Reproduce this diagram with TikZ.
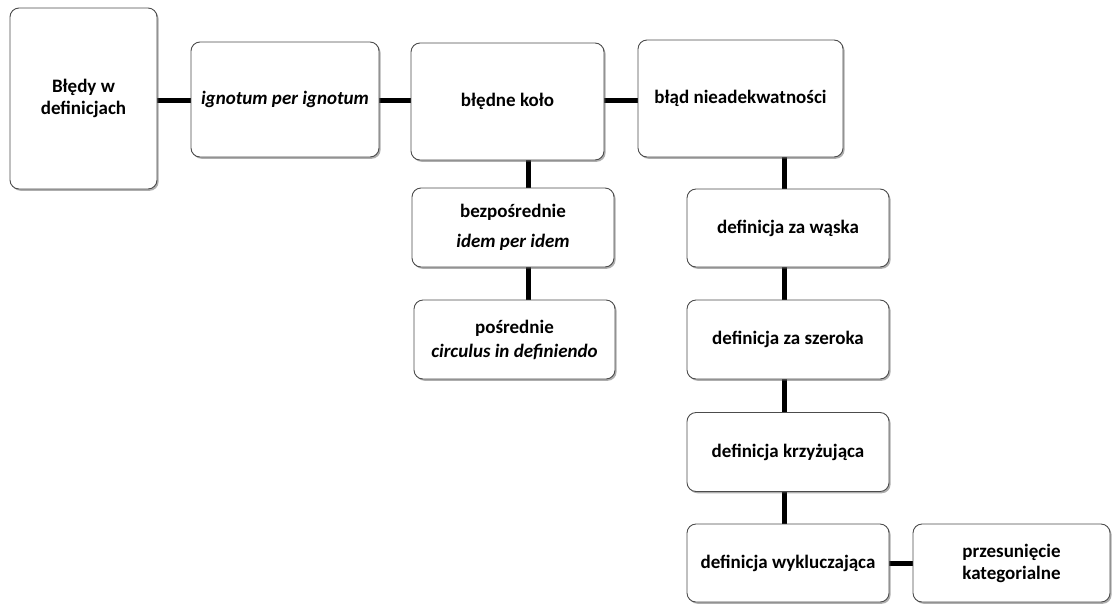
\documentclass[tikz,border=0pt]{standalone}
\usepackage{fontspec}
\setmainfont{Carlito}
\usetikzlibrary{shadows}
\pgfdeclarelayer{background}
\pgfsetlayers{background,main}
\begin{document}
\begin{tikzpicture}[x=1pt,y=-1pt,
  box/.style={draw=black!70, line width=0.9pt, rounded corners=9pt, fill=white,
    align=center, inner sep=2pt,
    font=\fontsize{19}{22}\selectfont\bfseries,
    drop shadow={shadow xshift=1.6pt, shadow yshift=-1.8pt, opacity=0.45, fill=black!70}},
  link/.style={line width=5pt, black}]
\useasboundingbox (0,0) rectangle (1113,603);

% top row
\node[box, minimum width=147pt, minimum height=181pt] (b1) at (83.5,98.5) {Błędy w\\definicjach};
\node[box, minimum width=188pt, minimum height=115pt] (b2) at (285,99.5) {\itshape ignotum per ignotum};
\node[box, minimum width=193pt, minimum height=117pt] (b3) at (507.5,101.5) {błędne koło};
\node[box, minimum width=205pt, minimum height=117pt] (b4) at (740.5,98.5) {błąd nieadekwatności};

% kinds of circular definitions
\node[box, minimum width=202pt, minimum height=79pt, font=\fontsize{19}{30}\selectfont\bfseries] (b5) at (513,227.5) {bezpośrednie\\\itshape idem per idem};
\node[box, minimum width=201pt, minimum height=79pt, font=\fontsize{19}{24}\selectfont\bfseries] (b6) at (514.5,339.5) {pośrednie\\\itshape circulus in definiendo};

% kinds of inadequate definitions
\node[box, minimum width=202pt, minimum height=78pt] (b7) at (788,228) {definicja za wąska};
\node[box, minimum width=202pt, minimum height=79pt] (b8) at (788,339.5) {definicja za szeroka};
\node[box, minimum width=202pt, minimum height=79pt] (b9) at (788,452) {definicja krzyżująca};
\node[box, minimum width=202pt, minimum height=78pt] (b10) at (788,563) {definicja wykluczająca};
\node[box, minimum width=197pt, minimum height=78pt] (b11) at (1011.5,563) {przesunięcie\\kategorialne};

\coordinate (r1) at (0,100);
\coordinate (c1) at (528,0);
\coordinate (c2) at (784.5,0);

\begin{pgfonlayer}{background}
  \draw[link] (b1.east |- r1) -- (b2.west |- r1);
  \draw[link] (b2.east |- r1) -- (b3.west |- r1);
  \draw[link] (b3.east |- r1) -- (b4.west |- r1);
  \draw[link] (b3.south -| c1) -- (b5.north -| c1);
  \draw[link] (b5.south -| c1) -- (b6.north -| c1);
  \draw[link] (b4.south -| c2) -- (b7.north -| c2);
  \draw[link] (b7.south -| c2) -- (b8.north -| c2);
  \draw[link] (b8.south -| c2) -- (b9.north -| c2);
  \draw[link] (b9.south -| c2) -- (b10.north -| c2);
  \draw[link] (b10.east) -- (b11.west);
\end{pgfonlayer}
\end{tikzpicture}
\end{document}
